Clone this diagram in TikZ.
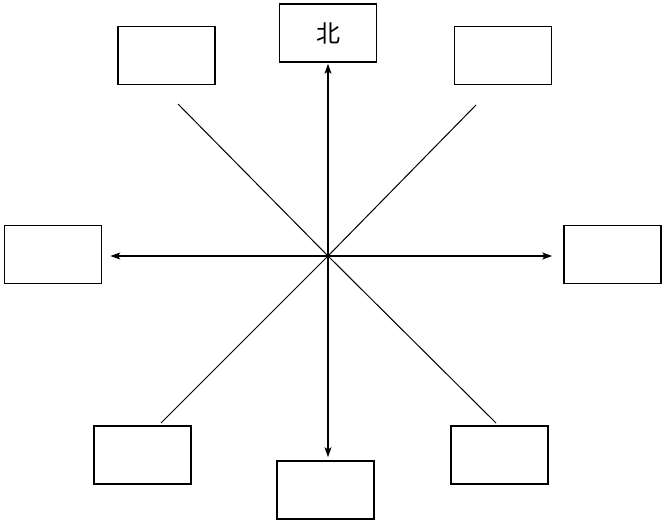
\documentclass[tikz,border=0pt]{standalone}
\usepackage{fontspec}
\newfontfamily\cjk{Noto Sans CJK SC}
\usetikzlibrary{arrows.meta}
\begin{document}
\begin{tikzpicture}[x=1pt,y=-1pt,
  dirbox/.style={draw=black, line width=1.7pt, minimum width=97pt, minimum height=58pt, inner sep=0pt, fill=white},
  axis/.style={line width=1.2pt, -{Stealth[length=10pt,width=7pt,inset=2.5pt]}},
  diag/.style={line width=1pt}]
\useasboundingbox (0,0) rectangle (667,524);
\node[dirbox] (N)  at (328,33)    {\cjk\fontsize{24pt}{26pt}\selectfont 北};
\node[dirbox] (NW) at (166.5,55.5) {};
\node[dirbox] (NE) at (503,55.5)  {};
\node[dirbox] (W)  at (53,254.5)  {};
\node[dirbox] (E)  at (612.5,254.5) {};
\node[dirbox] (SW) at (142.5,455) {};
\node[dirbox] (S)  at (325.5,490) {};
\node[dirbox] (SE) at (499.5,455) {};
\coordinate (C) at (328,256);
\coordinate (dNW) at (178,104);
\coordinate (dNE) at (476,105);
\coordinate (dSW) at (161,423);
\coordinate (dSE) at (496,423);
\draw[diag] (dNW) -- (C) -- (dSE);
\draw[diag] (dNE) -- (C) -- (dSW);
\draw[axis, shorten >=1pt] (C) -- (C |- N.south);
\draw[axis, shorten >=3pt] (C) -- (C |- S.north);
\draw[axis, shorten >=8pt] (C) -- (W.east |- C);
\draw[axis, shorten >=11pt] (C) -- (E.west |- C);
\end{tikzpicture}
\end{document}
